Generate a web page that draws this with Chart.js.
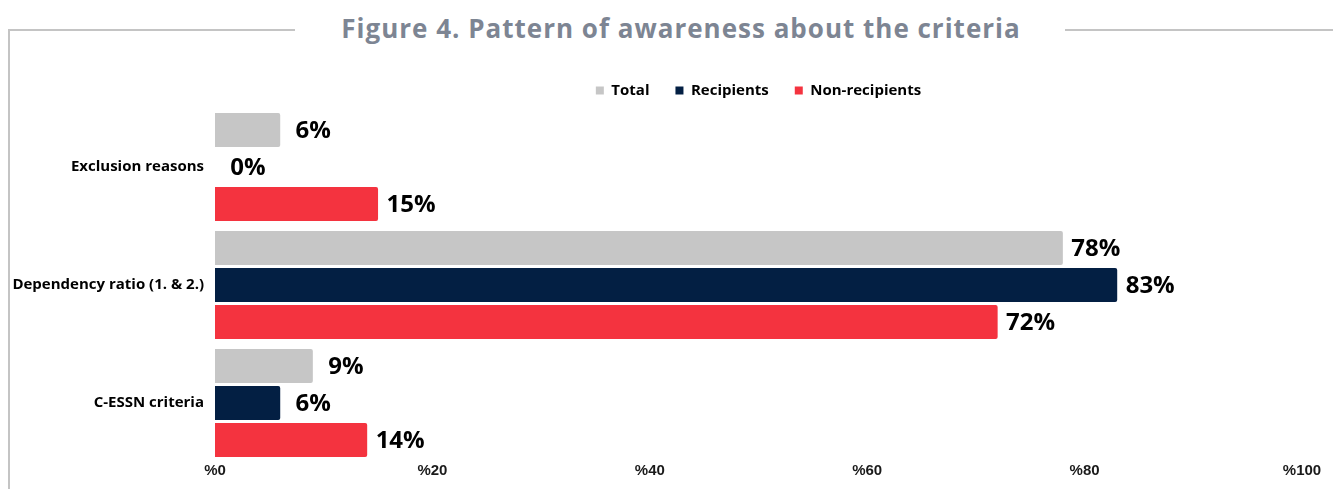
<!DOCTYPE html>
<html lang="en">
<head>
  <meta charset="UTF-8">
  <title>Figure 4. Pattern of awareness about the criteria</title>
  <script src="https://cdn.jsdelivr.net/npm/chart.js"></script>
  <style>
    html, body {
      margin: 0;
      padding: 0;
      background: #fff;
    }
    #wrap {
      position: relative;
      width: 1333px;
      height: 489px;
      overflow: hidden;
    }
    /* frame: top rule broken by the title, plus left rule */
    .rule-top {
      position: absolute;
      top: 29px;
      height: 2px;
      background: #c4c4c4;
    }
    .rule-left {
      position: absolute;
      left: 8px;
      top: 29px;
      width: 2px;
      height: 460px;
      background: #c4c4c4;
    }
    h1 {
      position: absolute;
      left: 0;
      width: 1362px;
      top: 10px;
      margin: 0;
      text-align: center;
      font-family: 'Open Sans', sans-serif;
      font-weight: 700;
      font-size: 26px;
      line-height: 36px;
      letter-spacing: 1px;
      color: #7d8593;
    }
    canvas {
      position: absolute;
      left: 0;
      top: 0;
    }
  </style>
</head>
<body>
<div id="wrap">
  <div class="rule-top" style="left:8px;width:287px"></div>
  <div class="rule-top" style="left:1065px;width:268px"></div>
  <div class="rule-left"></div>
  <h1>Figure 4. Pattern of awareness about the criteria</h1>
  <canvas id="grafica" width="1333" height="489"></canvas>
</div>

<script>
const categorias = ['Exclusion reasons', 'Dependency ratio (1. & 2.)', 'C-ESSN criteria'];
const total = [6, 78, 9];
const recipients = [0, 83, 6];
const nonRecipients = [15, 72, 14];
const ticksX = [0, 20, 40, 60, 80, 100];

// value labels at the end of each bar
const etiquetas = {
  id: 'etiquetas',
  afterDatasetsDraw(chart) {
    const ctx = chart.ctx;
    ctx.save();
    ctx.font = 'bold 24px "Open Sans", sans-serif';
    ctx.fillStyle = '#000';
    ctx.textAlign = 'center';
    ctx.textBaseline = 'middle';
    chart.data.datasets.forEach((ds, i) => {
      chart.getDatasetMeta(i).data.forEach((bar, j) => {
        ctx.fillText(ds.data[j] + '%', bar.x + 33, bar.y + 1);
      });
    });
    ctx.restore();
  }
};

new Chart(document.getElementById('grafica'), {
  type: 'bar',
  data: {
    labels: categorias,
    datasets: [
      { label: 'Total', data: total, backgroundColor: '#c6c6c6' },
      { label: 'Recipients', data: recipients, backgroundColor: '#031f43' },
      { label: 'Non-recipients', data: nonRecipients, backgroundColor: '#f4333f' }
    ]
  },
  options: {
    indexAxis: 'y',
    responsive: false,
    animation: false,
    layout: { padding: { left: 0, right: 31, top: 57, bottom: 0 } },
    datasets: {
      bar: {
        barPercentage: 0.92,
        categoryPercentage: 0.94,
        borderRadius: 2,
        borderSkipped: 'start'
      }
    },
    scales: {
      x: {
        min: 0,
        max: 100,
        afterFit: s => { s.height = 27; },
        afterBuildTicks: s => { s.ticks = ticksX.map(v => ({ value: v })); },
        grid: { display: false, drawTicks: false },
        border: { display: false },
        ticks: {
          padding: 0,
          color: '#1a1a1a',
          font: { family: '"Liberation Sans", Arial, sans-serif', size: 15, weight: 'bold' },
          callback: v => '%' + v
        }
      },
      y: {
        afterFit: s => { s.width = 215; },
        grid: { display: false, drawTicks: false },
        border: { display: false },
        ticks: {
          padding: 11,
          color: '#000',
          font: { family: '"Open Sans", sans-serif', size: 15, weight: 'bold' }
        }
      }
    },
    plugins: {
      legend: {
        position: 'top',
        fullSize: false,
        labels: {
          boxWidth: 8,
          boxHeight: 8,
          padding: 26,
          color: '#000',
          font: { family: '"Open Sans", sans-serif', size: 15, weight: 'bold' }
        }
      },
      tooltip: { enabled: false }
    }
  },
  plugins: [etiquetas]
});
</script>
</body>
</html>
